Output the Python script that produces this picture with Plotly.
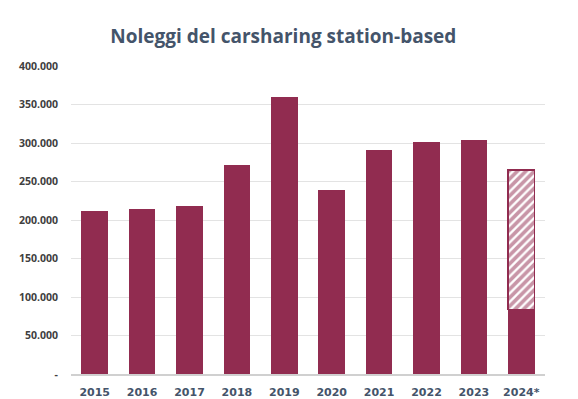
import plotly.graph_objects as go

years = ["2015", "2016", "2017", "2018", "2019", "2020", "2021", "2022", "2023", "2024*"]
rentals = [212000, 214000, 218000, 271000, 360000, 239000, 291000, 301000, 304000, 84000]
estimate_years = ["2024*"]
estimate_extra = [181000]

y_tickvals = [0, 50000, 100000, 150000, 200000, 250000, 300000, 350000, 400000]
y_ticktext = ["-", "50.000", "100.000", "150.000", "200.000", "250.000", "300.000", "350.000", "400.000"]

color = "#912C50"

fig = go.Figure()
fig.add_trace(go.Bar(x=years, y=rentals, marker=dict(color=color, line=dict(width=0)), width=0.56))
fig.add_trace(go.Bar(
    x=estimate_years, y=estimate_extra, width=0.56,
    marker=dict(color="white", line=dict(color=color, width=1.5),
                pattern=dict(shape="/", fgcolor=color, bgcolor="white", solidity=0.62, size=6)),
))

fig.update_layout(
    barmode="stack",
    width=570, height=391,
    showlegend=False,
    plot_bgcolor="white", paper_bgcolor="white",
    margin=dict(l=63, r=33, t=58, b=25),
    title=dict(text="<b>Noleggi del carsharing station-based</b>", x=0.483, xanchor="center",
               y=0.928, yanchor="middle",
               font=dict(family="Open Sans", size=19, color="#44546A")),
    font=dict(family="Open Sans", color="#404040"),
)
fig.update_xaxes(showgrid=False, showline=True, linecolor="#D0D0D0", linewidth=2,
                 tickfont=dict(size=11, color="#44546A", family="DejaVu Sans"), ticks="",
                 ticktext=["<b>%s</b>" % y for y in years], tickvals=years,
                 ticklabelstandoff=7, automargin=False)
fig.update_yaxes(range=[0, 400000], tickvals=y_tickvals,
                 ticktext=["<b>%s</b>" % t for t in y_ticktext],
                 showgrid=True, gridcolor="#E3E3E3", gridwidth=1, zeroline=False,
                 tickfont=dict(size=10.5, color="#404040", family="Open Sans"), ticks="",
                 ticklabelstandoff=12, automargin=False)

fig.write_html("out.html")
